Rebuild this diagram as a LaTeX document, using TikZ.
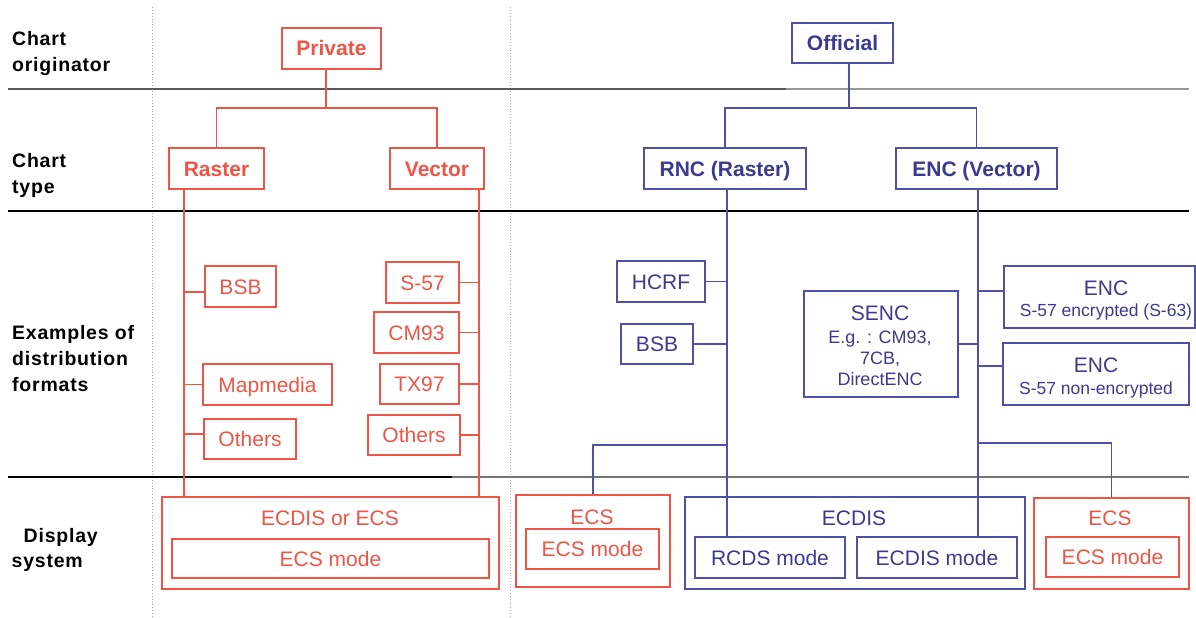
\documentclass[tikz,border=0pt]{standalone}
\usepackage{fontspec}
\setmainfont{Liberation Sans}
\newfontfamily\labfont[LetterSpace=4]{Liberation Sans}
\definecolor{cred}{RGB}{238,85,70}
\definecolor{cbl}{RGB}{80,80,170}
\definecolor{cblt}{RGB}{58,58,145}
\newcommand\fsA{\fontsize{21}{25}\selectfont}
\newcommand\fsS{\fontsize{18}{22}\selectfont}
\newcommand\fsT{\fontsize{17.5}{21}\selectfont}
\newcommand\mybox[7]{\node[#1, minimum width=#5pt, minimum height=#6pt] (#2) at (#3,#4) {#7};}
\tikzset{
 rbox/.style={draw=cred, line width=1.1pt, text=cred, inner sep=0pt, font=\fsA, text height=15pt, text depth=0pt},
 bbox/.style={draw=cbl, line width=1.1pt, text=cblt, inner sep=0pt, font=\fsA, text height=15pt, text depth=0pt},
 rtit/.style={text=cred, inner sep=0pt, font=\fsA, text height=15pt, text depth=0pt},
 btit/.style={text=cblt, inner sep=0pt, font=\fsA, text height=15pt, text depth=0pt},
 bsmall/.style={text=cblt, inner sep=0pt, anchor=base},
 rline/.style={draw=cred, line width=1.1pt},
 bline/.style={draw=cbl, line width=1.1pt},
 lab/.style={font=\labfont\bfseries\fontsize{19.5}{26}\selectfont, align=left, anchor=west, inner sep=0pt, text=black},
 vsep/.style={draw=black!35, dotted, line width=0.9pt},
}
\begin{document}
\begin{tikzpicture}[x=1pt,y=-1pt]
\useasboundingbox (0,0) rectangle (1196,618);
% row separators and column guides
\draw[vsep] (152,7) -- (152,618);
\draw[vsep] (510,7) -- (510,618);
\draw[line width=1.4pt, draw=black!65] (8,89) -- (786,89);
\draw[line width=1.4pt, draw=black!40] (786,89) -- (1189,89);
\draw[line width=1.2pt] (8,211) -- (1189,211);
\draw[line width=1.2pt] (8,477) -- (452,477);
\draw[line width=1.2pt, draw=black!55] (452,477) -- (1189,477);
% row labels
\node[lab] (l1) at (12,54) {Chart\\originator};
\node[lab] (l2) at (12,175) {Chart\\type};
\node[lab] (l3) at (12,359) {Examples of\\distribution\\formats};
\node[lab, font=\labfont\bfseries\fontsize{19.5}{25}\selectfont] (l4) at (11.5,549.5) {\hspace*{12pt}Display\\system};
% private side
\mybox{rbox, font=\fsA\bfseries}{priv}{331.5}{48.5}{99}{41}{Private}
\mybox{rbox, font=\fsA\bfseries}{raster}{216.5}{168.5}{95}{41}{Raster}
\mybox{rbox, font=\fsA\bfseries}{vector}{437}{168.5}{94}{41}{Vector}
\mybox{rbox}{bsbL}{240.5}{286.5}{71}{41}{BSB}
\mybox{rbox}{mapm}{267.5}{384.5}{129}{41}{Mapmedia}
\mybox{rbox}{othL}{250}{439}{92}{40}{Others}
\mybox{rbox}{s57}{422.5}{282.5}{73}{41}{S-57}
\mybox{rbox}{cm93}{416.5}{332.5}{85}{41}{CM93}
\mybox{rbox}{tx97}{419.5}{384}{79}{40}{TX97}
\mybox{rbox}{othR}{414}{435}{92}{40}{Others}
\mybox{rbox}{disp1}{330.5}{543}{337}{92}{}
\node[rtit] (disp1t) at (330,517.5) {ECDIS or ECS};
\mybox{rbox}{disp1m}{330.5}{558.5}{317}{39}{ECS mode}
% official side
\mybox{bbox, font=\fsA\bfseries}{off}{842.5}{43}{101}{40}{Official}
\mybox{bbox, font=\fsA\bfseries}{rnc}{725}{168.5}{162}{41}{RNC (Raster)}
\mybox{bbox, font=\fsA\bfseries}{enc}{976.5}{168.5}{161}{41}{ENC (Vector)}
\mybox{bbox}{hcrf}{661}{281.5}{88}{41}{HCRF}
\mybox{bbox}{bsbR}{657}{344}{72}{40}{BSB}
\mybox{bbox}{senc}{881}{344}{154}{106}{}
\node[bsmall, font=\fsA] (senc1) at (880,320) {SENC};
\node[bsmall, font=\fsS] (senc2) at (880,343.5) {E.g. : CM93,};
\node[bsmall, font=\fsS] (senc3) at (880,364.5) {7CB,};
\node[bsmall, font=\fsS] (senc4) at (880,385) {DirectENC};
\mybox{bbox}{encA}{1099.5}{297}{191}{62}{}
\node[bsmall, font=\fsA] (encA1) at (1106,295.5) {ENC};
\node[bsmall, font=\fsT] (encA2) at (1106,316.5) {S-57 encrypted (S-63)};
\mybox{bbox}{encB}{1096}{374}{186}{62}{}
\node[bsmall, font=\fsA] (encB1) at (1096,372.5) {ENC};
\node[bsmall, font=\fsT] (encB2) at (1096,394.5) {S-57 non-encrypted};
% display systems on official side
\mybox{rbox}{ecs1}{593}{541}{154}{92}{}
\node[rtit] (ecs1t) at (592,517) {ECS};
\mybox{rbox}{ecs1m}{592.5}{549}{133}{40}{ECS mode}
\mybox{bbox}{ecd}{855}{543}{340}{92}{}
\node[btit] (ecdt) at (854,518) {ECDIS};
\mybox{bbox}{rcds}{770}{557.5}{150}{41}{RCDS mode}
\mybox{bbox}{ecdm}{937}{557.5}{160}{41}{ECDIS mode}
\mybox{rbox}{ecs2}{1111.5}{543.5}{155}{91}{}
\node[rtit] (ecs2t) at (1110,518) {ECS};
\mybox{rbox}{ecs2m}{1112.5}{557}{133}{40}{ECS mode}
% private connectors
\coordinate (pj) at (326,108);
\coordinate (rl) at (184,0);
\coordinate (vl) at (479,0);
\draw[rline] (priv.south -| pj) -- (pj);
\draw[rline] (raster.north) |- (pj) -| (vector.north);
\draw[rline] (raster.south -| rl) -- (disp1.north -| rl);
\draw[rline] (vector.south -| vl) -- (disp1.north -| vl);
\draw[rline] ([yshift=-5.5pt]bsbL.west) -- ([yshift=-5.5pt]bsbL.west -| rl);
\draw[rline] (mapm.west) -- (mapm.west -| rl);
\draw[rline] ([yshift=5pt]othL.west) -- ([yshift=5pt]othL.west -| rl);
\draw[rline] (s57.east) -- (s57.east -| vl);
\draw[rline] (cm93.east) -- (cm93.east -| vl);
\draw[rline] (tx97.east) -- (tx97.east -| vl);
\draw[rline] (othR.east) -- (othR.east -| vl);
% official connectors
\coordinate (oj) at (849,108);
\coordinate (nl) at (727,0);
\coordinate (el) at (978,0);
\coordinate (rj) at (727,445);
\coordinate (ej) at (978,443);
\draw[bline] (off.south -| oj) -- (oj);
\draw[bline] (rnc.north) |- (oj) -| (enc.north);
\draw[bline] (rnc.south -| nl) -- (rcds.north -| nl);
\draw[bline] (hcrf.east) -- (hcrf.east -| nl);
\draw[bline] (bsbR.east) -- (bsbR.east -| nl);
\draw[bline] (rj) -| (ecs1.north);
\draw[bline] (enc.south -| el) -- (ecdm.north -| el);
\draw[bline] (senc.east) -- (senc.east -| el);
\draw[bline] ([yshift=6pt]encA.west) -- ([yshift=6pt]encA.west -| el);
\draw[bline] ([yshift=8pt]encB.west) -- ([yshift=8pt]encB.west -| el);
\draw[bline] (ej) -| (ecs2.north);
\end{tikzpicture}
\end{document}
